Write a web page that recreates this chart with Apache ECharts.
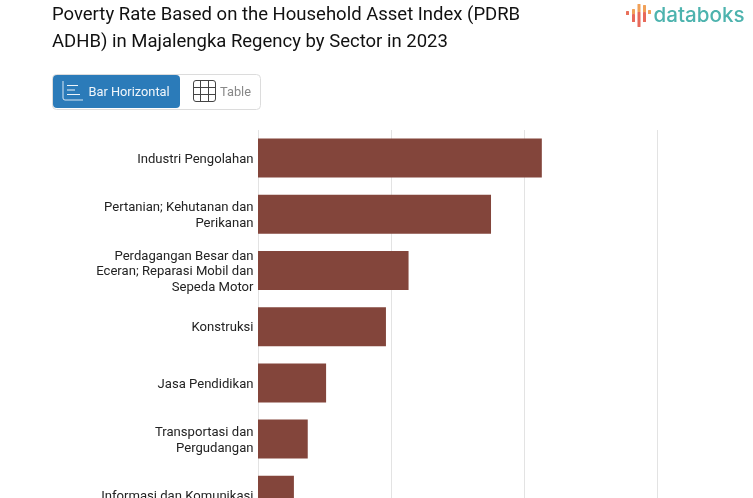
<!DOCTYPE html>
<html><head><meta charset="utf-8">
<style>html,body{margin:0;padding:0;background:#fff;overflow:hidden}#c{width:753px;height:498px}</style>
<script src="https://cdn.jsdelivr.net/npm/echarts@6/dist/echarts.min.js"></script>
</head><body><div id="c"></div>
<script>
const titleText = "Poverty Rate Based on the Household Asset Index (PDRB\nADHB) in Majalengka Regency by Sector in 2023";
const categories = ["Industri Pengolahan","Pertanian; Kehutanan dan\nPerikanan","Perdagangan Besar dan\nEceran; Reparasi Mobil dan\nSepeda Motor","Konstruksi","Jasa Pendidikan","Transportasi dan\nPergudangan","Informasi dan Komunikasi"];
const values = [10.67,8.76,5.66,4.81,2.56,1.87,1.35];
const tickValues = [0,5,10,15];
const logoBars = [[626,11,3,4,'#e9705a'],[632,9,3,5,'#f0a058'],[632,14,3,8,'#e8695a'],[637.5,4,3,8,'#f0a058'],[637.5,12,3,15,'#e8695a'],[643,5,3,7,'#f0a058'],[643,12,3,10,'#e8695a'],[648,10,3,4,'#f0a058']];
const chart = echarts.init(document.getElementById('c'),null,{renderer:'canvas'});
const rr=(x,y,w,h,f,r,s)=>({type:'rect',shape:{x,y,width:w,height:h,r:r||0},style:{fill:f,stroke:s||null,lineWidth:s?1:0}});
const ln=(x1,y1,x2,y2,c,w)=>({type:'line',shape:{x1,y1,x2,y2},style:{stroke:c,lineWidth:w||1,fill:null}});
const gridIcon=[rr(193.5,80.5,22,21,'#fff',2.5,'#444')];
[87.5,94.5].forEach(y=>gridIcon.push(ln(194,y,215,y,'#444')));
[200.5,208.5].forEach(x=>gridIcon.push(ln(x,81,x,101,'#444')));
chart.setOption({
  animation:false,
  title:{text:titleText,left:47,top:-3,textStyle:{fontFamily:'Roboto',fontSize:18.5,fontWeight:400,color:'#111',lineHeight:27}},
  grid:{left:258,top:130,width:399,height:393.4,containLabel:false,outerBoundsMode:'none'},
  xAxis:{type:'value',min:0,max:15,interval:5,data:tickValues,axisLabel:{show:false},axisTick:{show:false},axisLine:{show:false},splitLine:{show:true,lineStyle:{color:'#e3e3e3',width:1}}},
  yAxis:{type:'category',inverse:true,data:categories,axisTick:{show:false},axisLine:{show:false},
    axisLabel:{fontFamily:'Roboto',fontSize:13.1,color:'#222',lineHeight:15.7,margin:4.5,align:'right',verticalAlign:'middle',
      formatter:v=>v.split('\n').map(s=>'{a|'+s+'}').join('\n'),
      rich:{a:{fontFamily:'Roboto',fontSize:13.1,color:'#222',lineHeight:15.7,padding:[0,0,0,0]}},padding:[3,0,0,0]}},
  series:[{type:'bar',data:values,barWidth:39,itemStyle:{color:'#83453b'}}],
  graphic:[
    rr(52.5,74.5,208,35,'#fff',4,'#dcdcdc'),
    rr(53,75,127,33,'#2b7bb9',4),
    ln(63,81,63,98,'#d8e8f4'),ln(65,100,83,100,'#d8e8f4'),
    {type:'arc',shape:{cx:65,cy:98,r:2,startAngle:Math.PI/2,endAngle:Math.PI},style:{stroke:'#d8e8f4',lineWidth:1,fill:null}},
    ln(67,85.5,78,85.5,'#eef5fa'),ln(67,90,75,90,'#eef5fa'),ln(67,94.5,80,94.5,'#eef5fa'),
    {type:'text',style:{x:88.5,y:92.5,text:'Bar Horizontal',fill:'#f2f7fb',font:'12.8px Roboto',verticalAlign:'middle'}},
    ...gridIcon,
    {type:'text',style:{x:220,y:92.5,text:'Table',fill:'#888',font:'12.8px Roboto',verticalAlign:'middle'}},
    ...logoBars.map(b=>rr(b[0],b[1],b[2],b[3],b[4],0.5)),
    {type:'text',style:{x:653.5,y:16,text:'databoks',fill:'#4db3ae',font:'500 20.6px Inter',verticalAlign:'middle'}}
  ]
});
</script></body></html>
